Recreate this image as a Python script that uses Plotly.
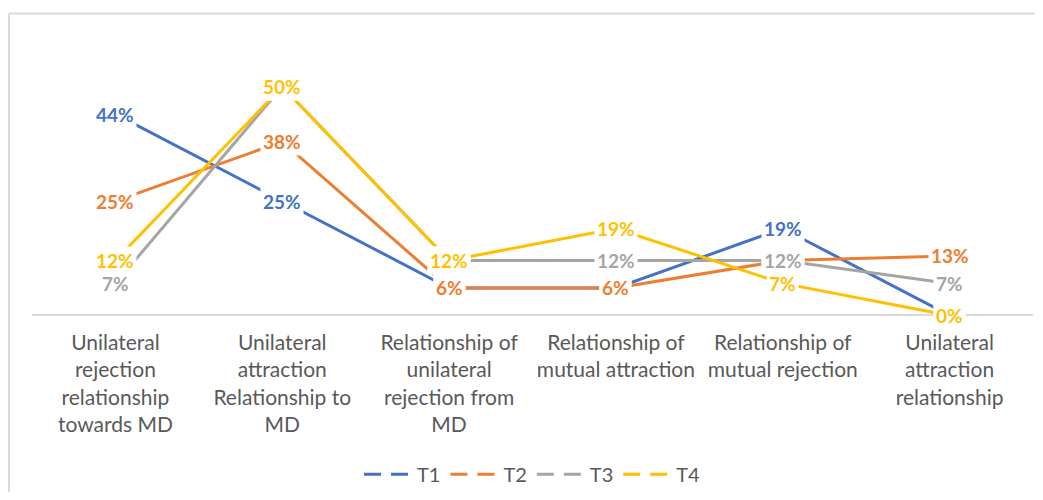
import plotly.graph_objects as go

categories = [
    "Unilateral<br>rejection<br>relationship<br>towards MD",
    "Unilateral<br>attraction<br>Relationship to<br>MD",
    "Relationship of<br>unilateral<br>rejection from<br>MD",
    "Relationship of<br>mutual attraction",
    "Relationship of<br>mutual rejection",
    "Unilateral<br>attraction<br>relationship",
]
series_names = ["T1", "T2", "T3", "T4"]
t1 = [44, 25, 6, 6, 19, 0]
t2 = [25, 38, 6, 6, 12, 13]
t3 = [7, 50, 12, 12, 12, 7]
t4 = [12, 50, 12, 19, 7, 0]
series_values = [t1, t2, t3, t4]
colors = ["#4472C4", "#ED7D31", "#A5A5A5", "#FFC000"]

FONT = "Lato, 'Open Sans', sans-serif"

fig = go.Figure()
for name, vals, col in zip(series_names, series_values, colors):
    fig.add_trace(go.Scatter(
        x=categories, y=vals, mode="lines", name=name,
        line=dict(color=col, width=3), showlegend=False,
        hoverinfo="skip",
    ))
# legend-only entries with Excel-like split line symbol
for name, col in zip(series_names, colors):
    fig.add_trace(go.Scatter(
        x=[None], y=[None], mode="lines", name=name,
        line=dict(color=col, width=3, dash="17px,10px"),
    ))

annotations = []
for vals, col in zip(series_values, colors):
    for cat, v in zip(categories, vals):
        annotations.append(dict(
            x=cat, y=v, xref="x", yref="y", text=f"{v}%",
            showarrow=False, xanchor="center", yanchor="middle",
            font=dict(family=FONT, size=19, color=col, weight="bold"),
            bgcolor="white", borderpad=2,
        ))

fig.update_layout(
    template="none",
    width=1027, height=484,
    margin=dict(l=24, r=2, t=33, b=172, autoexpand=False),
    paper_bgcolor="white", plot_bgcolor="white",
    font=dict(family=FONT, color="#595959"),
    annotations=annotations,
    showlegend=True,
    legend=dict(
        orientation="h", x=0.5, xanchor="center", y=-0.553, yanchor="middle",
        font=dict(family=FONT, size=20, color="#595959"),
        itemwidth=48, traceorder="normal", bgcolor="rgba(0,0,0,0)",
    ),
    shapes=[
        dict(type="line", xref="paper", yref="paper",
             x0=-0.023, x1=1.05, y0=1.0985, y1=1.0985,
             line=dict(color="#D9D9D9", width=2)),
        dict(type="line", xref="paper", yref="paper",
             x0=-0.023, x1=-0.023, y0=1.0985, y1=-0.7,
             line=dict(color="#D9D9D9", width=2)),
    ],
)
fig.update_xaxes(
    type="category", range=[-0.5, 5.5], showgrid=False, showline=False,
    ticks="", ticklabelstandoff=8, automargin=False,
    tickfont=dict(family=FONT, size=21, color="#595959"),
)
fig.update_yaxes(
    range=[-1, 60], showgrid=False, showticklabels=False, showline=False,
    zeroline=True, zerolinecolor="#D9D9D9", zerolinewidth=1.5, automargin=False,
)

fig.write_html("out.html")
